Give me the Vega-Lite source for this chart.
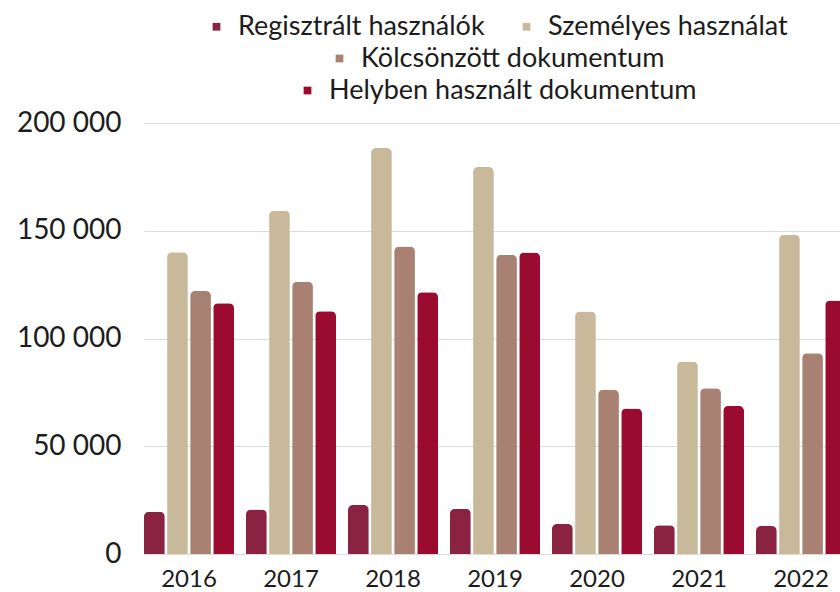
{
  "$schema": "https://vega.github.io/schema/vega-lite/v6.json",
  "width": 702,
  "height": 431,
  "padding": {"left": 16, "top": 13, "right": 0, "bottom": 0},
  "background": "white",
  "data": {"values": [
    {"year": "2016", "series": "Regisztrált használók", "value": 19600},
    {"year": "2016", "series": "Személyes használat", "value": 140000},
    {"year": "2016", "series": "Kölcsönzött dokumentum", "value": 122000},
    {"year": "2016", "series": "Helyben használt dokumentum", "value": 116400},
    {"year": "2017", "series": "Regisztrált használók", "value": 20700},
    {"year": "2017", "series": "Személyes használat", "value": 159300},
    {"year": "2017", "series": "Kölcsönzött dokumentum", "value": 126300},
    {"year": "2017", "series": "Helyben használt dokumentum", "value": 112700},
    {"year": "2018", "series": "Regisztrált használók", "value": 22700},
    {"year": "2018", "series": "Személyes használat", "value": 188400},
    {"year": "2018", "series": "Kölcsönzött dokumentum", "value": 142700},
    {"year": "2018", "series": "Helyben használt dokumentum", "value": 121500},
    {"year": "2019", "series": "Regisztrált használók", "value": 21000},
    {"year": "2019", "series": "Személyes használat", "value": 179600},
    {"year": "2019", "series": "Kölcsönzött dokumentum", "value": 138900},
    {"year": "2019", "series": "Helyben használt dokumentum", "value": 139900},
    {"year": "2020", "series": "Regisztrált használók", "value": 13900},
    {"year": "2020", "series": "Személyes használat", "value": 112500},
    {"year": "2020", "series": "Kölcsönzött dokumentum", "value": 76200},
    {"year": "2020", "series": "Helyben használt dokumentum", "value": 67500},
    {"year": "2021", "series": "Regisztrált használók", "value": 13300},
    {"year": "2021", "series": "Személyes használat", "value": 89300},
    {"year": "2021", "series": "Kölcsönzött dokumentum", "value": 76900},
    {"year": "2021", "series": "Helyben használt dokumentum", "value": 68700},
    {"year": "2022", "series": "Regisztrált használók", "value": 13000},
    {"year": "2022", "series": "Személyes használat", "value": 148100},
    {"year": "2022", "series": "Kölcsönzött dokumentum", "value": 93200},
    {"year": "2022", "series": "Helyben használt dokumentum", "value": 117600}
  ]},
  "layer": [
    {
      "mark": {"type": "bar", "cornerRadiusTopLeft": 5, "cornerRadiusTopRight": 5},
      "encoding": {
        "x": {
          "field": "year", "type": "nominal",
          "scale": {"paddingInner": 0.1176, "paddingOuter": 0},
          "axis": {"title": null, "labelAngle": 0, "labelFontSize": 24, "labelPadding": 13, "labelColor": "#1c1c1c", "ticks": false, "domain": false, "grid": false}
        },
        "xOffset": {
          "field": "series", "type": "nominal",
          "sort": ["Regisztrált használók", "Személyes használat", "Kölcsönzött dokumentum", "Helyben használt dokumentum"],
          "scale": {"paddingInner": 0.1, "paddingOuter": 0}
        },
        "y": {
          "field": "value", "type": "quantitative",
          "scale": {"domain": [0, 200000]},
          "axis": {"title": null, "values": [0, 50000, 100000, 150000, 200000], "labelExpr": "replace(format(datum.value, ','), ',', ' ')", "labelFontSize": 28, "labelPadding": 23, "labelColor": "#1c1c1c", "ticks": false, "domain": false, "gridColor": "#dcdcdc"}
        },
        "color": {
          "field": "series", "type": "nominal",
          "scale": {
            "domain": ["Regisztrált használók", "Személyes használat", "Kölcsönzött dokumentum", "Helyben használt dokumentum"],
            "range": ["#8a2341", "#c8b99b", "#a98173", "#9b0b2f"]
          },
          "legend": {"values": ["Regisztrált használók", "Személyes használat"]}
        }
      }
    },
    {
      "transform": [{"filter": "datum.value < 0"}],
      "mark": "bar",
      "encoding": {
        "x": {"field": "year", "type": "nominal"},
        "y": {"field": "value", "type": "quantitative"},
        "color": {
          "field": "series", "type": "nominal",
          "scale": {
            "domain": ["Regisztrált használók", "Személyes használat", "Kölcsönzött dokumentum", "Helyben használt dokumentum"],
            "range": ["#8a2341", "#c8b99b", "#a98173", "#9b0b2f"]
          },
          "legend": {"values": ["Kölcsönzött dokumentum"]}
        }
      }
    },
    {
      "transform": [{"filter": "datum.value < 0"}],
      "mark": "bar",
      "encoding": {
        "x": {"field": "year", "type": "nominal"},
        "y": {"field": "value", "type": "quantitative"},
        "color": {
          "field": "series", "type": "nominal",
          "scale": {
            "domain": ["Regisztrált használók", "Személyes használat", "Kölcsönzött dokumentum", "Helyben használt dokumentum"],
            "range": ["#8a2341", "#c8b99b", "#a98173", "#9b0b2f"]
          },
          "legend": {"values": ["Helyben használt dokumentum"]}
        }
      }
    }
  ],
  "resolve": {"scale": {"color": "independent"}, "legend": {"color": "independent"}},
  "config": {
    "font": "Lato",
    "view": {"stroke": null},
    "legend": {
      "orient": "top",
      "direction": "horizontal",
      "title": null,
      "labelFontSize": 27,
      "labelLimit": 0,
      "labelColor": "#1c1c1c",
      "symbolType": "square",
      "symbolSize": 60,
      "symbolStrokeWidth": 0,
      "labelOffset": 8,
      "columnPadding": 28,
      "offset": 19,
      "layout": {"top": {"anchor": "middle", "direction": "vertical", "center": true, "margin": 5}}
    }
  }
}
